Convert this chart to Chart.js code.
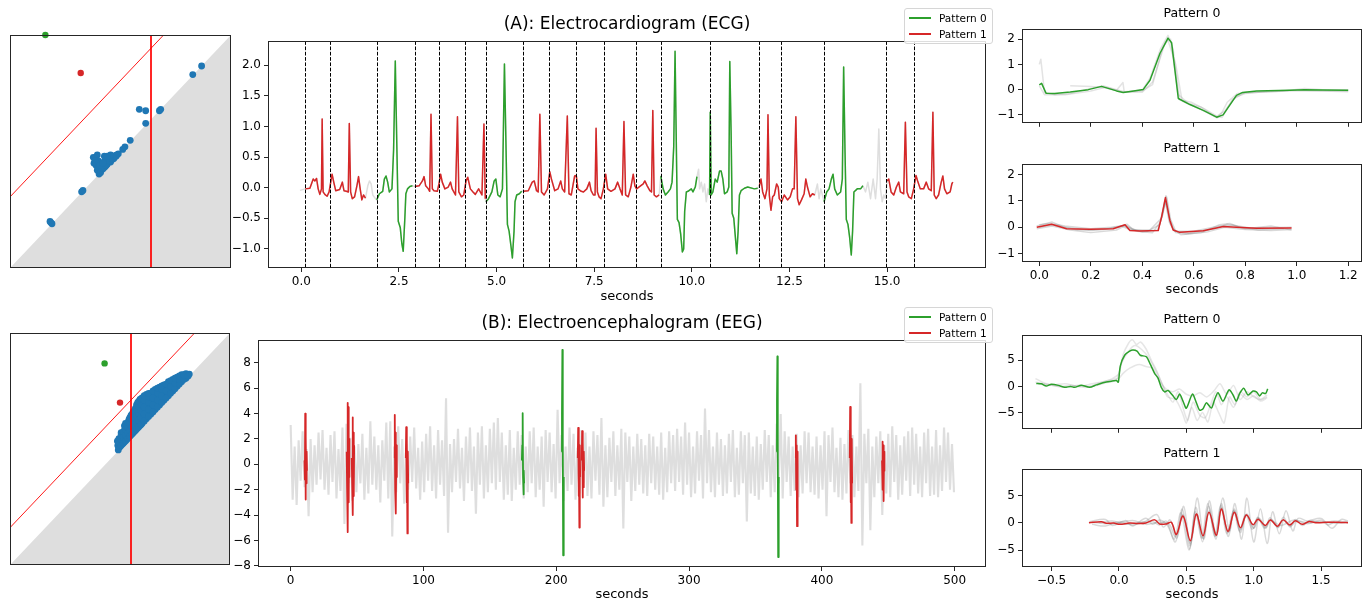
<!DOCTYPE html>
<html><head><meta charset="utf-8">
<script src="https://cdn.jsdelivr.net/npm/chart.js@4.4.0/dist/chart.umd.min.js"></script>
<style>
html,body{margin:0;padding:0;background:#fff;overflow:hidden;}
#fig{position:relative;width:1369px;height:601px;overflow:hidden;font-family:'DejaVu Sans',sans-serif;background:#fff;}
canvas{position:absolute;}
.ttl{position:absolute;white-space:nowrap;transform:translate(-50%,-50%);color:#000;line-height:1;}
.leg{position:absolute;border:1px solid #d6d6d6;border-radius:3px;background:rgba(255,255,255,0.85);font-size:10.5px;box-sizing:border-box;}
.leg .ln{position:absolute;height:2px;}
.leg .tx{position:absolute;white-space:nowrap;line-height:1;transform:translateY(-50%);color:#000;}
</style></head><body><div id="fig"></div>
<script>
// ---------------- DATA ----------------
const ecgTime = [-0.036,
0.100,0.218,0.303,0.346,0.388,0.430,0.473,0.515,0.532,0.557,0.600,0.659,0.710,0.744,0.786,0.829,0.879,0.981,1.049,1.091,1.151,1.201,1.227,1.261,1.303,1.362,1.422,1.464,1.506,1.549,1.591,1.642,
1.701,1.744,1.786,1.829,1.896,
1.930,1.998,2.083,2.125,2.167,2.210,2.252,2.320,2.362,2.405,2.439,2.481,2.532,2.574,2.608,2.650,2.676,2.718,2.778,2.845,
2.905,3.015,3.100,3.142,3.184,3.252,3.286,3.320,3.354,3.396,3.481,3.523,3.566,3.608,3.676,3.761,3.820,3.862,3.947,3.998,4.032,4.100,4.159,4.218,4.261,4.328,4.396,4.455,4.540,4.625,4.676,4.710,
4.727,4.794,4.879,4.938,4.981,5.032,5.091,5.150,5.201,5.235,5.277,5.320,5.371,5.404,5.447,5.472,5.515,5.583,5.642,
5.684,5.811,5.913,5.964,6.023,6.065,6.108,6.150,6.218,6.303,6.362,6.405,6.489,6.574,6.642,6.684,6.743,6.811,6.854,6.913,6.998,7.040,7.083,7.167,7.225,7.310,7.378,7.420,7.480,7.522,7.548,7.582,7.624,7.675,7.735,7.794,7.845,7.930,8.032,8.100,8.160,8.219,8.262,8.304,8.372,8.440,8.500,8.542,8.585,8.670,8.755,8.797,8.857,8.925,8.967,9.001,9.035,9.095,9.163,
9.205,9.265,9.324,9.392,9.452,9.494,9.537,9.571,9.605,9.630,9.673,9.715,9.758,9.792,9.817,9.860,9.902,9.987,10.030,10.089,10.132,
10.174,10.200,10.242,10.285,10.327,10.370,10.412,
10.455,10.472,10.497,10.540,10.599,10.650,10.710,10.752,10.795,10.837,10.905,10.948,10.973,11.007,11.033,11.075,11.109,11.152,11.186,11.220,11.262,11.347,11.432,11.602,11.687,
11.730,11.772,11.815,11.874,11.925,11.951,11.985,12.027,12.070,12.112,12.172,12.214,12.240,12.299,12.367,12.452,12.520,12.580,12.622,12.665,12.707,12.750,12.809,12.877,12.920,12.962,13.030,13.090,13.149,
13.217,13.260,13.302,13.345,
13.387,13.455,13.515,13.574,13.617,13.659,13.727,13.812,13.855,13.889,13.923,13.957,13.999,14.042,14.084,14.118,14.152,14.237,14.322,14.382,
14.450,14.509,14.577,14.645,14.705,14.747,14.790,14.832,14.875,14.917,14.960,
15.002,15.045,15.104,15.172,15.240,15.300,15.342,15.427,15.470,15.512,15.555,15.623,15.682,15.742,15.784,15.852,15.937,16.005,16.065,16.133,16.175,16.209,16.260,16.320,16.388,16.430,16.473,16.532,16.617,16.660,16.685];
const ecgValue = [-0.045,
-0.02,-0.01,0.14,0.11,0.15,-0.02,-0.11,-0.02,1.12,-0.07,-0.11,-0.14,-0.07,0.06,0.22,0.09,-0.05,-0.03,0.09,-0.05,-0.06,-0.07,1.05,-0.07,-0.18,-0.15,0.03,0.18,-0.02,-0.20,-0.12,-0.17,
0.03,0.11,0.06,-0.12,-0.18,
-0.20,-0.10,-0.06,0.14,0.19,0.09,-0.07,-0.02,0.62,2.07,0.88,-0.55,-0.65,-0.92,-1.04,-0.50,-0.10,-0.02,0.02,0.03,
0.02,0.03,0.11,0.18,0.03,-0.02,-0.06,1.20,-0.02,-0.05,-0.06,0.06,0.22,0.09,-0.02,0.01,0.09,-0.02,-0.12,1.16,-0.07,-0.15,-0.12,0.11,0.17,-0.02,-0.07,-0.11,-0.02,-0.12,1.04,-0.18,
-0.23,-0.18,-0.07,0.11,0.14,-0.12,-0.15,-0.02,2.02,0.88,-0.60,-0.71,-0.97,-1.15,-0.71,-0.23,-0.12,-0.10,-0.06,
-0.06,-0.05,0.09,0.11,-0.05,-0.07,1.20,-0.07,-0.12,-0.02,0.26,0.14,-0.05,-0.02,0.11,-0.02,-0.07,1.17,-0.10,-0.12,0.19,0.20,-0.02,-0.06,-0.07,-0.02,0.09,-0.05,-0.12,-0.12,0.97,-0.07,-0.15,-0.18,-0.02,0.22,-0.02,-0.06,-0.02,0.09,-0.02,-0.12,1.08,-0.12,-0.15,0.01,0.22,0.03,-0.02,0.02,0.06,0.11,0.03,-0.05,-0.07,1.26,-0.12,-0.15,-0.12,
0.19,-0.02,-0.12,-0.07,-0.02,0.09,0.67,2.23,0.62,-0.52,-0.57,-0.76,-1.05,-1.00,-0.39,-0.07,-0.06,-0.02,-0.07,0.01,0.18,
0.30,-0.02,0.09,-0.07,0.06,-0.23,-0.02,
-0.12,1.23,-0.12,-0.07,0.14,0.09,0.27,0.27,0.14,-0.10,-0.07,0.01,2.06,0.88,-0.42,-0.50,-0.76,-1.08,-0.71,-0.12,-0.05,-0.01,0.01,-0.02,-0.01,
0.03,0.14,-0.07,-0.18,-0.02,1.19,-0.12,-0.37,-0.15,-0.12,0.06,0.01,-0.18,-0.23,-0.12,-0.20,-0.15,-0.02,-0.02,1.16,-0.18,-0.28,-0.20,-0.10,0.14,0.01,-0.15,-0.10,-0.12,
0.06,-0.18,-0.02,-0.12,
-0.23,-0.07,-0.02,0.14,0.22,-0.02,-0.12,-0.07,0.14,1.97,0.62,-0.52,-0.60,-0.81,-1.10,-0.71,-0.07,-0.02,-0.02,0.03,
-0.07,0.09,-0.18,0.14,-0.18,0.14,0.96,-0.02,-0.23,-0.12,-0.18,
0.11,0.14,-0.07,-0.12,0.01,0.09,-0.07,-0.10,1.07,-0.07,-0.15,-0.18,-0.02,0.20,0.11,-0.02,-0.02,0.09,-0.02,-0.05,1.23,-0.12,-0.18,-0.12,0.09,0.19,-0.02,-0.10,-0.07,0.06,0.09];

const ecgMotifStart   = [0.10, 1.93, 2.90, 4.72, 5.68, 9.20, 10.45, 11.72, 13.38, 14.99];
const ecgMotifEnd     = [1.65, 2.85, 4.715, 5.65, 9.17, 10.14, 11.69, 13.15, 14.39, 16.70];
const ecgMotifPattern = [1, 0, 1, 0, 1, 0, 0, 1, 0, 1];
const ecgBoundaries = [0.10,0.74,1.94,2.90,3.52,4.20,4.73,5.68,6.35,7.04,7.76,8.57,9.20,10.46,11.72,12.28,13.39,14.98,15.69];

const ecgP0Mean = [[0.0,0.19],[0.009,0.25],[0.026,-0.14],[0.06,-0.15],[0.12,-0.09],[0.19,0.0],[0.242,0.13],[0.30,-0.05],[0.326,-0.11],[0.36,-0.06],[0.404,0.01],[0.43,0.37],[0.469,1.44],[0.50,2.04],[0.514,1.86],[0.54,-0.35],[0.585,-0.59],[0.637,-0.82],[0.689,-1.09],[0.714,-1.0],[0.766,-0.23],[0.79,-0.11],[0.844,-0.05],[0.973,-0.02],[1.03,0.0],[1.1,-0.01],[1.2,-0.02]];
const ecgP0Members = [
 [[0.0,1.0],[0.006,1.2],[0.02,-0.1],[0.06,-0.2],[0.12,-0.15],[0.2,0.05],[0.25,0.15],[0.3,0.0],[0.33,-0.08],[0.4,-0.02],[0.43,0.45],[0.47,1.6],[0.5,2.15],[0.52,1.6],[0.545,-0.4],[0.59,-0.5],[0.64,-0.75],[0.69,-1.05],[0.72,-0.85],[0.76,-0.3],[0.8,-0.15],[0.9,-0.05],[1.0,-0.02],[1.1,-0.05],[1.2,-0.08]],
 [[0.12,0.15],[0.2,0.12],[0.25,0.08],[0.3,-0.02],[0.325,0.28],[0.33,-0.1],[0.4,-0.05],[0.44,0.2],[0.48,1.7],[0.5,1.95],[0.53,1.0],[0.555,-0.45],[0.6,-0.65],[0.65,-0.9],[0.69,-1.12],[0.71,-0.9],[0.73,-0.5],[0.77,-0.15],[0.85,-0.1],[0.95,-0.05],[1.03,0.05],[1.1,0.0],[1.2,0.0]],
 [[0.0,0.15],[0.02,-0.2],[0.1,-0.2],[0.2,-0.05],[0.26,0.1],[0.32,-0.08],[0.4,-0.1],[0.44,0.3],[0.49,1.9],[0.51,2.0],[0.54,-0.2],[0.58,-0.55],[0.63,-0.7],[0.68,-1.05],[0.71,-1.1],[0.75,-0.4],[0.8,-0.1],[0.9,-0.08],[1.0,-0.03],[1.2,-0.05]]
];
const ecgP1Mean = [[-0.01,0.0],[0.048,0.12],[0.106,-0.05],[0.197,-0.07],[0.287,-0.05],[0.333,0.1],[0.352,-0.12],[0.39,-0.14],[0.462,-0.12],[0.475,0.39],[0.49,1.13],[0.507,0.27],[0.52,-0.1],[0.546,-0.19],[0.637,-0.13],[0.715,0.03],[0.766,0.0],[0.844,-0.03],[0.98,-0.02]];
const ecgP1Members = [
 [[-0.01,0.05],[0.05,0.2],[0.1,0.0],[0.2,-0.12],[0.3,-0.02],[0.34,0.12],[0.36,-0.05],[0.4,-0.18],[0.46,-0.1],[0.48,0.5],[0.492,1.2],[0.505,0.4],[0.52,-0.05],[0.55,-0.28],[0.63,-0.2],[0.7,0.1],[0.74,0.15],[0.78,0.0],[0.85,-0.1],[0.95,-0.05]],
 [[-0.01,-0.05],[0.05,0.05],[0.12,-0.1],[0.2,-0.2],[0.3,-0.1],[0.33,0.05],[0.38,-0.15],[0.44,-0.2],[0.47,0.2],[0.49,1.0],[0.51,0.1],[0.53,-0.2],[0.57,-0.25],[0.65,-0.18],[0.72,0.0],[0.8,-0.08],[0.9,-0.12],[0.98,-0.08]],
 [[0.0,0.1],[0.04,0.15],[0.1,0.05],[0.2,-0.05],[0.28,0.0],[0.335,0.08],[0.37,-0.1],[0.43,-0.1],[0.475,0.35],[0.495,1.15],[0.51,0.3],[0.53,-0.15],[0.6,-0.15],[0.7,0.05],[0.75,0.08],[0.8,-0.05],[0.9,0.05],[0.98,-0.1]],
 [[0.0,0.0],[0.05,0.1],[0.15,-0.1],[0.25,-0.08],[0.32,0.05],[0.35,-0.08],[0.42,-0.15],[0.468,0.1],[0.488,1.05],[0.505,0.2],[0.525,-0.15],[0.58,-0.22],[0.68,-0.05],[0.73,0.12],[0.82,-0.02],[0.98,0.0]]
];

const eegStart = 0, eegStep = 1.5;
const eegValue = [
3.1,-2.8,1.4,-3.2,1.9,-1.3,2.6,-1.8,1.2,-4.1,2.0,-2.2,1.5,-1.6,2.5,-1.2,2.7,-2.0,1.3,-2.4,
2.3,-1.4,2.6,-2.7,1.2,-2.1,2.9,-4.7,3.2,-1.5,2.1,-2.9,1.4,-2.2,1.6,-1.5,2.4,-2.8,1.3,-2.3,
3.4,-1.6,2.2,-2.0,1.5,-3.0,1.9,-1.3,3.3,-2.7,3.4,-5.7,1.4,-2.2,3.0,-1.5,2.0,-3.1,1.6,-2.0,
2.2,-1.4,2.9,-1.9,1.3,-2.8,1.8,-2.2,2.4,-1.3,3.0,-2.1,1.5,-2.7,2.7,-1.6,1.9,-2.5,5.2,-5.4,
1.6,-2.2,2.0,-1.4,2.8,-1.9,1.3,-2.9,2.2,-1.5,2.9,-2.1,1.4,-3.9,2.5,-1.6,3.0,-2.7,1.5,-2.2,
2.8,-1.5,3.3,-2.0,3.65,-1.4,2.5,-2.8,1.5,-2.4,2.7,-2.9,1.3,-2.0,2.6,-1.6,2.3,-2.7,1.4,-2.2,
2.6,-1.5,2.9,-2.6,1.4,-2.0,2.2,-3.35,2.7,-1.4,2.5,-2.2,1.6,-2.7,4.3,-1.5,2.3,-2.9,1.4,-2.1,
2.9,-1.6,2.4,-2.8,1.3,-2.3,2.7,-1.5,2.5,-2.5,1.4,-2.7,2.6,-1.3,2.3,-2.4,3.65,-3.35,1.5,-2.6,
2.1,-1.4,2.6,-2.5,1.5,-2.0,2.8,-5.06,2.5,-1.4,2.2,-2.9,1.4,-2.1,2.4,-1.6,2.0,-2.3,1.5,-2.5,
2.4,-1.5,2.2,-2.0,1.4,-2.4,2.5,-2.8,1.3,-2.2,2.6,-1.5,2.3,-2.1,2.8,-1.4,2.2,-2.4,3.3,-1.6,
2.5,-2.6,1.4,-2.3,2.6,-1.3,2.3,-2.7,4.4,-1.5,2.7,-2.2,1.4,-2.6,2.5,-1.6,2.0,-2.5,1.5,-2.3,
2.4,-1.4,2.7,-2.6,1.3,-2.4,2.6,-1.5,2.3,-4.5,2.5,-2.3,1.4,-2.5,2.2,-2.8,1.6,-2.0,2.7,-1.4,
2.3,-2.6,1.5,-2.2,3.2,-1.5,3.96,-2.7,2.6,-1.4,2.2,-2.5,1.4,-2.1,2.4,-2.6,1.5,-2.3,2.6,-1.5,
2.5,-2.2,1.4,-2.4,2.2,-2.7,1.5,-2.0,2.6,-4.1,2.3,-1.4,2.9,-2.2,1.3,-2.6,2.1,-2.8,1.6,-2.3,
2.7,-1.5,2.3,-2.6,1.4,-2.1,6.4,-6.4,2.4,-1.5,2.8,-5.2,1.4,-2.6,2.2,-1.5,2.6,-4.0,1.5,-2.3,
2.4,-2.6,3.0,-1.4,2.3,-2.8,1.5,-2.4,2.2,-1.3,2.6,-2.5,2.9,-1.6,2.4,-2.3,1.4,-2.6,2.5,-1.5,
2.8,-2.5,1.4,-2.4,2.7,-2.6,1.5,-2.1,2.9,-1.4,2.5,-2.0,1.6,-2.2];

const eegMotifPattern = [1,1,1,1,1,0,0,1,1,0,1,1,1];
const eegMotifs = [
 [[10.4,0.3],[10.7,-1.2],[10.95,4.0],[11.2,-2.78],[11.45,2.2],[11.7,-1.5],[12.0,1.0],[12.3,-0.5]],
 [[42.2,1.0],[42.5,-2.0],[42.8,4.85],[43.1,-5.35],[43.4,4.5],[43.7,-3.0],[44.0,2.0],[44.2,-1.0]],
 [[46.0,0.5],[46.3,-1.5],[46.6,3.7],[46.9,-4.0],[47.2,2.5],[47.5,-2.5],[47.8,1.5]],
 [[78.1,0.5],[78.4,3.9],[78.7,-2.0],[79.0,2.5],[79.3,-3.88],[79.6,1.5],[79.9,-1.0]],
 [[86.7,0.5],[87.0,2.93],[87.3,-3.0],[87.6,2.0],[87.9,-5.45],[88.2,1.0],[88.5,-1.5]],
 [[174.1,0.3],[174.4,1.5],[174.7,4.03],[175.0,-1.0],[175.3,-2.37],[175.6,-0.5],[175.8,-1.5]],
 [[204.0,1.0],[204.3,4.0],[204.6,9.02],[204.9,2.0],[205.2,-7.18],[205.5,-3.0],[205.7,-1.0]],
 [[216.2,0.5],[216.5,2.88],[216.8,-2.5],[217.1,2.0],[217.4,-4.99],[217.7,1.5],[218.0,-1.0]],
 [[219.2,0.3],[219.5,2.62],[219.8,-2.62],[220.1,1.8],[220.4,-1.8],[220.7,1.0],[221.0,-0.5]],
 [[365.9,1.0],[366.2,5.0],[366.5,8.51],[366.8,1.0],[367.1,-7.31],[367.4,-3.0],[367.6,-1.0]],
 [[380.1,0.5],[380.4,2.29],[380.7,-2.0],[381.0,1.5],[381.3,-4.88],[381.6,1.0],[381.9,-1.0]],
 [[421.0,0.5],[421.3,4.52],[421.6,-3.0],[421.9,3.0],[422.2,-4.62],[422.5,2.0],[422.8,-1.5]],
 [[445.3,0.3],[445.6,1.78],[445.9,-2.0],[446.2,1.5],[446.5,-2.9],[446.8,1.0],[447.1,-0.5]]
];

const eegP0Mean = [[-0.614,0.58],[-0.577,0.5],[-0.54,0.06],[-0.502,0.41],[-0.45,0.2],[-0.403,-0.18],[-0.36,0.0],[-0.329,-0.18],[-0.28,0.23],[-0.218,-0.18],[-0.168,0.29],[-0.119,0.7],[-0.057,1.0],[-0.02,1.11],[-0.005,0.82],[0.01,3.92],[0.042,5.96],[0.079,6.73],[0.104,6.96],[0.134,6.73],[0.158,5.96],[0.203,5.67],[0.233,4.2],[0.265,2.46],[0.29,1.58],[0.314,-0.18],[0.339,-1.05],[0.364,-0.76],[0.396,-1.64],[0.426,-2.51],[0.45,-1.46],[0.475,-2.81],[0.5,-4.15],[0.545,-1.46],[0.574,-3.1],[0.599,-4.56],[0.624,-4.27],[0.649,-3.1],[0.686,-4.15],[0.71,-2.51],[0.735,-1.23],[0.772,-2.81],[0.817,-0.64],[0.847,-1.64],[0.871,-2.81],[0.896,-1.35],[0.926,-0.35],[0.958,-1.64],[0.995,-0.88],[1.02,-1.05],[1.045,-1.81],[1.064,-1.23],[1.089,-1.35],[1.104,-0.47]];
const eegP0Members = [
 [[-0.62,1.5],[-0.55,0.6],[-0.45,0.0],[-0.35,0.2],[-0.25,-0.2],[-0.15,0.6],[-0.05,1.5],[0.0,2.5],[0.03,6.0],[0.07,8.2],[0.1,8.9],[0.13,8.0],[0.16,8.5],[0.2,7.2],[0.24,5.0],[0.28,3.0],[0.32,0.5],[0.36,-1.5],[0.4,-3.0],[0.44,-1.0],[0.48,-4.5],[0.51,-6.5],[0.55,-3.0],[0.6,-5.5],[0.64,-6.0],[0.68,-3.5],[0.72,-1.0],[0.76,-3.5],[0.8,-2.0],[0.85,-4.0],[0.9,-1.5],[0.95,-2.5],[1.0,-1.8],[1.05,-2.8],[1.1,-2.2]],
 [[-0.62,0.8],[-0.5,0.3],[-0.4,0.5],[-0.3,0.0],[-0.2,0.5],[-0.1,1.0],[0.0,1.6],[0.03,2.5],[0.08,3.5],[0.15,4.2],[0.2,3.8],[0.25,3.5],[0.3,1.0],[0.35,-0.5],[0.4,-1.0],[0.45,-0.5],[0.5,-1.5],[0.55,-1.8],[0.6,-1.2],[0.65,-2.0],[0.7,-1.0],[0.75,0.5],[0.8,-1.5],[0.85,0.2],[0.9,-2.5],[0.95,-1.0],[1.0,-2.0],[1.05,-2.5],[1.1,-1.6]],
 [[-0.6,0.5],[-0.5,0.2],[-0.4,-0.1],[-0.3,0.2],[-0.2,0.0],[-0.1,0.7],[-0.02,1.2],[0.02,4.5],[0.08,7.0],[0.12,7.8],[0.17,7.0],[0.22,5.5],[0.27,3.2],[0.32,0.5],[0.36,-2.0],[0.42,-2.5],[0.47,-5.0],[0.5,-7.0],[0.54,-4.0],[0.58,-6.5],[0.62,-5.0],[0.66,-6.8],[0.7,-3.0],[0.74,-5.0],[0.78,-7.0],[0.82,-2.0],[0.86,-3.5],[0.9,-1.0],[0.95,-2.0],[1.0,-1.0],[1.05,-2.5],[1.1,-2.0]]
];
const eegP1Mean = [[-0.223,0],[-0.13,0.17],[-0.094,-0.1],[-0.04,-0.05],[0.005,-0.3],[0.08,-0.06],[0.14,-0.15],[0.2,-0.06],[0.265,0.52],[0.302,-0.23],[0.35,-0.23],[0.389,0.06],[0.426,-2.15],[0.475,1.22],[0.53,-3.31],[0.574,1.6],[0.624,-2.4],[0.668,1.92],[0.723,-2.3],[0.76,2.5],[0.809,-1.6],[0.856,1.92],[0.901,-0.9],[0.946,1.4],[0.995,-0.35],[1.032,0.64],[1.087,-0.52],[1.124,0.52],[1.176,-0.64],[1.218,0.52],[1.267,-0.41],[1.309,0.35],[1.361,-0.29],[1.411,0.23],[1.46,0.0],[1.55,0.1],[1.65,0.05],[1.7,0.0]];
const eegP1Members = [
 [[-0.22,0.2],[-0.1,0.6],[-0.05,-0.5],[0.05,0.4],[0.1,-0.6],[0.2,0.8],[0.25,-0.3],[0.3,0.5],[0.36,-0.5],[0.42,-3.5],[0.47,2.5],[0.525,-4.8],[0.57,2.8],[0.62,-3.5],[0.665,3.0],[0.72,-3.0],[0.76,3.5],[0.81,-2.5],[0.855,2.5],[0.9,-1.8],[0.945,1.5],[1.0,-1.0],[1.04,0.8],[1.09,-0.8],[1.13,0.6],[1.18,-0.8],[1.22,0.5],[1.27,-0.6],[1.32,0.3],[1.4,0.0],[1.5,0.2],[1.6,-0.1],[1.7,0.1]],
 [[-0.2,-0.3],[-0.1,-0.6],[0.0,0.2],[0.1,-0.4],[0.2,0.3],[0.28,1.5],[0.33,-0.8],[0.38,0.5],[0.43,-2.8],[0.48,3.0],[0.53,-4.2],[0.58,4.5],[0.63,-3.0],[0.67,4.0],[0.72,-2.0],[0.77,4.5],[0.82,-1.5],[0.86,3.5],[0.91,-3.0],[0.95,4.5],[1.0,-3.5],[1.05,2.5],[1.1,-3.8],[1.14,2.0],[1.19,-2.0],[1.24,2.2],[1.29,-1.5],[1.33,0.8],[1.4,0.3],[1.5,0.8],[1.58,-1.0],[1.65,0.6],[1.7,0.3]],
 [[-0.15,0.0],[-0.05,0.3],[0.05,-0.3],[0.15,0.1],[0.25,0.2],[0.3,-0.4],[0.35,0.3],[0.41,-3.0],[0.46,1.8],[0.52,-5.0],[0.565,2.0],[0.615,-2.8],[0.66,3.5],[0.71,-2.5],[0.755,3.2],[0.8,-2.0],[0.85,2.2],[0.895,-1.5],[0.94,1.5],[0.99,-1.2],[1.03,1.0],[1.08,-1.0],[1.12,0.5],[1.2,-0.5],[1.3,0.5],[1.4,-0.2],[1.5,0.5],[1.55,-0.4],[1.6,0.2]],
 [[-0.2,0.1],[-0.05,-0.2],[0.1,0.4],[0.2,-0.3],[0.3,0.1],[0.37,-0.2],[0.42,-2.5],[0.475,1.5],[0.53,-3.8],[0.575,1.6],[0.625,-2.9],[0.67,2.2],[0.72,-2.5],[0.76,2.8],[0.81,-1.8],[0.855,2.3],[0.9,-1.2],[0.95,1.6],[1.0,-1.0],[1.03,0.9],[1.09,-1.0],[1.12,0.9],[1.18,-0.9],[1.22,1.0],[1.27,-0.8],[1.31,0.6],[1.36,-0.5],[1.42,0.4],[1.5,0.0],[1.6,0.3],[1.7,0.1]]
];

const ecgPdBlue = [[0.867,0.867],[0.827,0.830],[0.585,0.681],[0.614,0.675],[0.676,0.675],[0.682,0.681],[0.614,0.621],[0.544,0.548],[0.520,0.520],[0.510,0.509],[0.377,0.475],[0.395,0.485],[0.427,0.480],[0.483,0.485],[0.467,0.475],[0.400,0.460],[0.410,0.450],[0.420,0.440],[0.430,0.450],[0.440,0.460],[0.450,0.470],[0.460,0.465],[0.400,0.430],[0.410,0.420],[0.403,0.403],[0.405,0.415],[0.420,0.425],[0.430,0.435],[0.440,0.445],[0.455,0.455],[0.470,0.470],[0.390,0.440],[0.395,0.420],[0.380,0.450],
 [0.385,0.460],[0.390,0.450],[0.400,0.445],[0.415,0.435],[0.425,0.455],[0.435,0.465],[0.445,0.475],[0.460,0.480],[0.475,0.482],[0.410,0.410],[0.415,0.430],[0.425,0.430],[0.435,0.440],[0.450,0.460],[0.465,0.468],[0.480,0.480],[0.490,0.490],[0.405,0.440],[0.420,0.450],[0.455,0.485],[0.440,0.480],
 [0.324,0.327],[0.330,0.333],[0.181,0.200],[0.190,0.190],[0.185,0.195]];
const ecgPdGreen = [[0.16,1.0]];
const ecgPdRed = [[0.32,0.837]];
const ecgPdCut = [0.638];
const ecgPdBand = [0.305];

const eegPdBlue = [[0.488,0.534],[0.492,0.496],[0.49,0.515],[0.50,0.51],[0.50,0.53],[0.505,0.57],[0.51,0.52],[0.51,0.545],[0.52,0.53],[0.52,0.555],[0.52,0.58],[0.52,0.60],[0.53,0.54],[0.53,0.57],[0.53,0.60],[0.54,0.55],[0.54,0.575],[0.54,0.60],[0.541,0.628],[0.55,0.56],[0.55,0.59],[0.55,0.62],[0.55,0.645],[0.56,0.57],[0.56,0.60],[0.56,0.63],[0.56,0.66],[0.57,0.58],[0.57,0.61],[0.57,0.64],[0.57,0.675],[0.58,0.59],[0.58,0.62],[0.58,0.65],[0.58,0.68],[0.58,0.70],[0.59,0.60],[0.59,0.63],[0.59,0.66],[0.59,0.69],[0.591,0.714],[0.60,0.61],[0.60,0.64],[0.60,0.67],[0.60,0.70],[0.60,0.72],[0.62,0.63],[0.62,0.66],[0.62,0.69],[0.62,0.715],[0.62,0.735],[0.64,0.65],[0.64,0.68],[0.64,0.71],[0.64,0.74],[0.66,0.67],[0.66,0.70],[0.66,0.73],[0.66,0.757],[0.68,0.69],[0.68,0.72],[0.68,0.745],[0.68,0.767],[0.70,0.71],[0.70,0.74],[0.70,0.776],[0.72,0.73],[0.72,0.76],[0.72,0.79],[0.74,0.75],[0.74,0.775],[0.74,0.80],[0.76,0.77],[0.76,0.79],[0.76,0.81],[0.78,0.79],[0.78,0.82],[0.80,0.805],[0.80,0.825],[0.815,0.823],
 [0.495,0.505],[0.495,0.525],[0.495,0.545],[0.505,0.515],[0.505,0.54],[0.505,0.56],[0.515,0.525],[0.515,0.55],[0.515,0.575],[0.525,0.535],[0.525,0.56],[0.525,0.585],[0.525,0.61],[0.535,0.545],[0.535,0.57],[0.535,0.595],[0.535,0.615],[0.545,0.555],[0.545,0.58],[0.545,0.61],[0.545,0.635],[0.555,0.565],[0.555,0.595],[0.555,0.625],[0.555,0.65],[0.565,0.575],[0.565,0.605],[0.565,0.635],[0.565,0.665],[0.575,0.585],[0.575,0.615],[0.575,0.645],[0.575,0.675],[0.575,0.69],[0.585,0.595],[0.585,0.625],[0.585,0.655],[0.585,0.685],[0.585,0.705],[0.595,0.605],[0.595,0.635],[0.595,0.665],[0.595,0.695],[0.595,0.715],[0.61,0.62],[0.61,0.65],[0.61,0.68],[0.61,0.71],[0.61,0.73],[0.63,0.64],[0.63,0.67],[0.63,0.70],[0.63,0.725],[0.63,0.74],[0.65,0.66],[0.65,0.69],[0.65,0.72],[0.65,0.75],[0.67,0.68],[0.67,0.71],[0.67,0.74],[0.67,0.762],[0.69,0.70],[0.69,0.73],[0.69,0.76],[0.69,0.772],[0.71,0.72],[0.71,0.75],[0.71,0.78],[0.73,0.74],[0.73,0.77],[0.73,0.795],[0.75,0.76],[0.75,0.785],[0.75,0.805],[0.77,0.78],[0.77,0.80],[0.77,0.815],[0.79,0.80],[0.79,0.82],[0.81,0.815]];
const eegPdGreen = [[0.43,0.869]];
const eegPdRed = [[0.50,0.70]];
const eegPdCut = [0.55];
const eegPdBand = [0.161];

const ecgXTicks = [0,2.5,5,7.5,10,12.5,15];
const ecgYTicks = [-1,-0.5,0,0.5,1,1.5,2];
const eegXTicks = [0,100,200,300,400,500];
const eegYTicks = [-8,-6,-4,-2,0,2,4,6,8];
const ecgPatXTicks = [0,0.2,0.4,0.6,0.8,1.0,1.2];
const ecgPatYTicks = [-1,0,1,2];
const eegPatXTicks = [-0.5,0,0.5,1.0,1.5];
const eegPatYTicks = [-5,0,5];

// ---------------- STYLE ----------------
const GREEN = '#2ca02c', RED = '#d62728', BLUE = '#1f77b4';
const patternColor = [GREEN, RED];
const AX = '#262626';

Chart.defaults.font.family = "'DejaVu Sans', sans-serif";
Chart.defaults.color = '#000';
Chart.defaults.animation = false;

const framePlugin = {
  id: 'frame',
  afterDraw(chart) {
    const {ctx, chartArea: a} = chart;
    ctx.save();
    ctx.strokeStyle = AX; ctx.lineWidth = 1;
    ctx.strokeRect(Math.round(a.left) + 0.5, Math.round(a.top) + 0.5, Math.round(a.right - a.left) - 1, Math.round(a.bottom - a.top) - 1);
    ctx.restore();
  }
};
const vlinePlugin = {
  id: 'vlines',
  afterDatasetsDraw(chart, args, o) {
    if (!o || !o.values) return;
    const {ctx, chartArea: a, scales: {x}} = chart;
    ctx.save();
    ctx.beginPath(); ctx.rect(a.left, a.top, a.right - a.left, a.bottom - a.top); ctx.clip();
    ctx.strokeStyle = '#000'; ctx.lineWidth = 1; ctx.setLineDash([3.7, 1.6]);
    o.values.forEach(v => {
      const px = Math.round(x.getPixelForValue(v)) + 0.5;
      ctx.beginPath(); ctx.moveTo(px, a.top); ctx.lineTo(px, a.bottom); ctx.stroke();
    });
    ctx.restore();
  }
};
Chart.register(framePlugin, vlinePlugin);

const fig = document.getElementById('fig');
function makeCanvas(box, yW, xH, tp, rp) {
  const c = document.createElement('canvas');
  const w = box.r - box.l + yW + rp, h = box.b - box.t + tp + xH;
  c.width = w; c.height = h;
  c.style.left = (box.l - yW) + 'px'; c.style.top = (box.t - tp) + 'px';
  c.style.width = w + 'px'; c.style.height = h + 'px';
  fig.appendChild(c);
  return c;
}
function fmt(dec) { return v => Number(v).toFixed(dec).replace('-', '\u2212'); }
function axis(which, min, max, ticks, dec, size, opt) {
  opt = opt || {};
  return {
    type: 'linear', min: min, max: max, bounds: 'data',
    afterBuildTicks: s => { s.ticks = ticks.map(v => ({value: v})); },
    afterFit: s => { if (which === 'x') s.height = size; else s.width = size; },
    ticks: {display: opt.labels !== false, autoSkip: false, maxRotation: 0, minRotation: 0, padding: 3, font: {size: 12}, color: '#000', callback: fmt(dec)},
    grid: {display: true, drawOnChartArea: false, drawTicks: true, tickLength: 4, color: AX, lineWidth: 1},
    border: {display: false},
    title: opt.title ? {display: true, text: opt.title, font: {size: 13}, padding: {top: 0, bottom: 0}, color: '#000'} : {display: false}
  };
}
function line(points, color, width, order, extra) {
  return Object.assign({type: 'line', data: points, borderColor: color, borderWidth: width, pointRadius: 0, tension: 0, fill: false, borderJoinStyle: 'round', spanGaps: false, order: order}, extra || {});
}
const pairs = arr => arr.map(p => ({x: p[0], y: p[1]}));

function tsChart(box, yW, xH, xr, yr, xt, yt, xdec, ydec, datasets, extraPlugins, labels, title) {
  const c = makeCanvas(box, yW, xH, 4, 6);
  return new Chart(c, {
    type: 'line',
    data: {datasets: datasets},
    options: {
      responsive: false, animation: false, events: [],
      layout: {padding: {top: 4, right: 6, left: 0, bottom: 0}},
      plugins: Object.assign({legend: {display: false}, tooltip: {enabled: false}}, extraPlugins || {}),
      scales: {
        x: axis('x', xr[0], xr[1], xt, xdec, xH, {labels: labels, title: title}),
        y: axis('y', yr[0], yr[1], yt, ydec, yW)
      }
    }
  });
}

function pdChart(box, blue, green, red, cut, band) {
  const m = 5;
  const c = document.createElement('canvas');
  const w = box.r - box.l + 2 * m, h = box.b - box.t + 2 * m;
  c.width = w; c.height = h;
  c.style.left = (box.l - m) + 'px'; c.style.top = (box.t - m) + 'px';
  c.style.width = w + 'px'; c.style.height = h + 'px';
  fig.appendChild(c);
  return new Chart(c, {
    type: 'scatter',
    data: {datasets: [
      {data: pairs(red), backgroundColor: RED, borderWidth: 0, pointRadius: 3.2, clip: false, order: 0},
      {data: pairs(green), backgroundColor: GREEN, borderWidth: 0, pointRadius: 3.2, clip: false, order: 0},
      {type: 'line', data: [{x: cut[0], y: 0}, {x: cut[0], y: 1}], borderColor: 'rgba(255,0,0,0.85)', borderWidth: 2, pointRadius: 0, order: 1},
      {type: 'line', data: [{x: 0, y: band[0]}, {x: 1 - band[0], y: 1}], borderColor: 'rgba(255,0,0,0.9)', borderWidth: 1, pointRadius: 0, order: 1},
      {data: pairs(blue), backgroundColor: BLUE, borderWidth: 0, pointRadius: 3.4, order: 2},
      {type: 'line', data: [{x: 0, y: 0}, {x: 1, y: 1}], borderWidth: 0, borderColor: 'rgba(0,0,0,0)', backgroundColor: '#dedede', fill: 'start', pointRadius: 0, order: 3}
    ]},
    options: {
      responsive: false, animation: false, events: [],
      layout: {padding: m},
      plugins: {legend: {display: false}, tooltip: {enabled: false}},
      scales: {x: {type: 'linear', min: 0, max: 1, display: false}, y: {type: 'linear', min: 0, max: 1, display: false}}
    }
  });
}

// ---------------- BUILD ----------------
pdChart({l: 10, t: 35, r: 231, b: 268}, ecgPdBlue, ecgPdGreen, ecgPdRed, ecgPdCut, ecgPdBand);
pdChart({l: 10, t: 333, r: 230, b: 565}, eegPdBlue, eegPdGreen, eegPdRed, eegPdCut, eegPdBand);

// ECG main
const ecgPts = ecgTime.map((t, i) => ({x: t, y: ecgValue[i]}));
const ecgSets = [line(ecgPts, 'rgba(211,211,211,0.75)', 1.5, 3)];
ecgMotifStart.forEach((s, k) => {
  const pts = ecgPts.filter(p => p.x >= s && p.x <= ecgMotifEnd[k]);
  ecgSets.push(line(pts, patternColor[ecgMotifPattern[k]], 1.5, 1));
});
tsChart({l: 268, t: 35, r: 986, b: 268}, 45, 36, [-0.855, 17.535], [-1.313, 2.393], ecgXTicks, ecgYTicks, 1, 1, ecgSets, {vlines: {values: ecgBoundaries}}, true, 'seconds');

// EEG main
const eegPts = eegValue.map((v, i) => ({x: eegStart + i * eegStep, y: v}));
const eegSets = [line(eegPts, 'rgba(190,190,190,0.5)', 2.1, 3, {borderJoinStyle: 'miter'})];
eegMotifs.forEach((m, k) => eegSets.push(line(pairs(m), patternColor[eegMotifPattern[k]], 1.8, 1)));
tsChart({l: 258, t: 334, r: 986, b: 567}, 40, 35, [-24.6, 523.6], [-8.10, 9.79], eegXTicks, eegYTicks, 0, 0, eegSets, {}, true, 'seconds');

// pattern panels
function patSets(mean, members, color, alpha, tension) {
  const s = members.map(m => line(pairs(m), 'rgba(128,128,128,' + alpha + ')', 1.5, 2, {tension: tension}));
  s.push(line(pairs(mean), color, 1.5, 1, {tension: tension}));
  return s;
}
tsChart({l: 1022, t: 23, r: 1362, b: 127}, 40, 6, [-0.0672, 1.2536], [-1.313, 2.393], ecgPatXTicks, ecgPatYTicks, 1, 0, patSets(ecgP0Mean, ecgP0Members, GREEN, 0.22, 0), {}, false, null);
tsChart({l: 1022, t: 158, r: 1362, b: 262}, 40, 35, [-0.0672, 1.2536], [-1.313, 2.393], ecgPatXTicks, ecgPatYTicks, 1, 0, patSets(ecgP1Mean, ecgP1Members, RED, 0.3, 0), {}, true, 'seconds');
tsChart({l: 1022, t: 329, r: 1362, b: 433}, 40, 6, [-0.72, 1.804], [-8.10, 9.79], eegPatXTicks, eegPatYTicks, 1, 0, patSets(eegP0Mean, eegP0Members, GREEN, 0.2, 0.25), {}, false, null);
tsChart({l: 1022, t: 463, r: 1362, b: 567}, 40, 35, [-0.72, 1.804], [-8.10, 9.79], eegPatXTicks, eegPatYTicks, 1, 0, patSets(eegP1Mean, eegP1Members, RED, 0.3, 0.35), {}, true, 'seconds');

// titles
const titles = [
  ['(A): Electrocardiogram (ECG)', 627, 23, 17],
  ['(B): Electroencephalogram (EEG)', 622, 321.5, 17],
  ['Pattern 0', 1192, 13, 12.5],
  ['Pattern 1', 1192, 147.5, 12.5],
  ['Pattern 0', 1192, 319, 12.5],
  ['Pattern 1', 1192, 453, 12.5]
];
titles.forEach(t => {
  const d = document.createElement('div');
  d.className = 'ttl'; d.textContent = t[0];
  d.style.left = t[1] + 'px'; d.style.top = t[2] + 'px'; d.style.fontSize = t[3] + 'px';
  fig.appendChild(d);
});
// legends
const legendNames = ['Pattern 0', 'Pattern 1'];
[8, 307].forEach(top => {
  const L = document.createElement('div');
  L.className = 'leg';
  L.style.left = '904px'; L.style.top = top + 'px'; L.style.width = '89px'; L.style.height = '36px';
  legendNames.forEach((n, i) => {
    const ln = document.createElement('div'); ln.className = 'ln';
    ln.style.left = '4px'; ln.style.width = '22px'; ln.style.top = (8 + 16 * i) + 'px'; ln.style.background = patternColor[i];
    const tx = document.createElement('div'); tx.className = 'tx'; tx.textContent = n;
    tx.style.left = '34px'; tx.style.top = (9 + 16 * i) + 'px';
    L.appendChild(ln); L.appendChild(tx);
  });
  fig.appendChild(L);
});
</script></body></html>
